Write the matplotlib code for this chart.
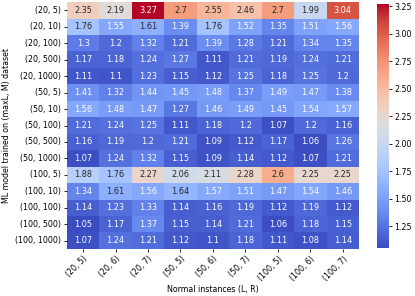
import matplotlib
matplotlib.use("Agg")
import matplotlib.pyplot as plt
import numpy as np
import pandas as pd
import seaborn as sns

row_labels = ["(20, 5)", "(20, 10)", "(20, 100)", "(20, 500)", "(20, 1000)",
              "(50, 5)", "(50, 10)", "(50, 100)", "(50, 500)", "(50, 1000)",
              "(100, 5)", "(100, 10)", "(100, 100)", "(100, 500)", "(100, 1000)"]
col_labels = ["(20, 5)", "(20, 6)", "(20, 7)", "(50, 5)", "(50, 6)", "(50, 7)",
              "(100, 5)", "(100, 6)", "(100, 7)"]

ratios = [
    [2.35, 2.19, 3.27, 2.7, 2.55, 2.46, 2.7, 1.99, 3.04],
    [1.76, 1.55, 1.61, 1.39, 1.76, 1.52, 1.35, 1.51, 1.56],
    [1.3, 1.2, 1.32, 1.21, 1.39, 1.28, 1.21, 1.34, 1.35],
    [1.17, 1.18, 1.24, 1.27, 1.11, 1.21, 1.19, 1.24, 1.21],
    [1.11, 1.1, 1.23, 1.15, 1.12, 1.25, 1.18, 1.25, 1.2],
    [1.41, 1.32, 1.44, 1.45, 1.48, 1.37, 1.49, 1.47, 1.38],
    [1.56, 1.48, 1.47, 1.27, 1.46, 1.49, 1.45, 1.54, 1.57],
    [1.21, 1.24, 1.25, 1.11, 1.18, 1.2, 1.07, 1.2, 1.16],
    [1.16, 1.19, 1.2, 1.21, 1.09, 1.12, 1.17, 1.06, 1.26],
    [1.07, 1.24, 1.32, 1.15, 1.09, 1.14, 1.12, 1.07, 1.21],
    [1.88, 1.76, 2.27, 2.06, 2.11, 2.28, 2.6, 2.25, 2.25],
    [1.34, 1.61, 1.56, 1.64, 1.57, 1.51, 1.47, 1.54, 1.46],
    [1.14, 1.23, 1.33, 1.14, 1.16, 1.19, 1.12, 1.19, 1.12],
    [1.05, 1.17, 1.37, 1.15, 1.14, 1.21, 1.06, 1.18, 1.15],
    [1.07, 1.24, 1.21, 1.12, 1.1, 1.18, 1.11, 1.08, 1.14],
]

df = pd.DataFrame(ratios, index=row_labels, columns=col_labels)

fs = 5.7
fig = plt.figure(figsize=(4.15, 2.96), dpi=100)
ax = fig.add_axes([0.161, 0.159, 0.704, 0.834])
cax = fig.add_axes([0.908, 0.162, 0.029, 0.824])

sns.heatmap(df, ax=ax, cbar_ax=cax, cmap="coolwarm", annot=True, fmt="g",
            annot_kws={"fontsize": fs + 0.2})

ax.set_xlabel("Normal instances (L, R)", fontsize=fs, labelpad=2)
ax.set_ylabel("ML model trained on (maxL, M) dataset", fontsize=fs, labelpad=3)
ax.tick_params(axis="both", labelsize=fs, length=2.5, width=0.6, pad=1.5)
plt.setp(ax.get_xticklabels(), rotation=45, ha="right", rotation_mode="anchor")
plt.setp(ax.get_yticklabels(), rotation=0)
cax.tick_params(labelsize=fs, length=2.5, width=0.6, pad=1.5)
cax.set_yticks([1.25, 1.5, 1.75, 2.0, 2.25, 2.5, 2.75, 3.0, 3.25])

fig.savefig("out.png", dpi=100)
